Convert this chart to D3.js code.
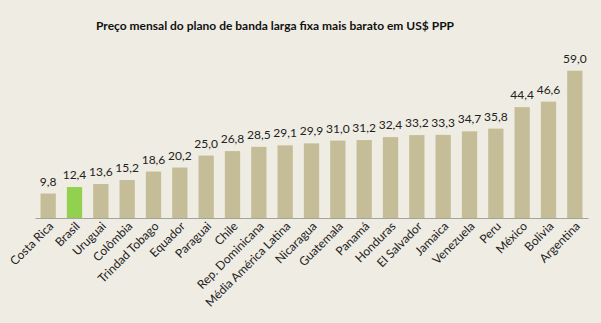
<!DOCTYPE html>
<html><head><meta charset="utf-8">
<script src="https://cdn.jsdelivr.net/npm/d3@7"></script>
<style>html,body{margin:0;padding:0;background:#efece3;}</style>
</head><body><svg id="c" width="601" height="323"></svg>
<script>
const categories = ["Costa Rica","Brasil","Uruguai","Colômbia","Trindad Tobago","Equador","Paraguai","Chile","Rep. Dominicana","Média América Latina","Nicaragua","Guatemala","Panamá","Honduras","El Salvador","Jamaica","Venezuela","Peru","México","Bolivia","Argentina"];
const values = [9.8,12.4,13.6,15.2,18.6,20.2,25.0,26.8,28.5,29.1,29.9,31.0,31.2,32.4,33.2,33.3,34.7,35.8,44.4,46.6,59.0];
const highlight = ["Brasil"];
const title = "Preço mensal do plano de banda larga fixa mais barato em US$ PPP";

const svg = d3.select("#c");
svg.append("rect").attr("width",601).attr("height",323).attr("fill","#efece3");
const font = "Lato, 'Open Sans', sans-serif";
const x = d3.scaleBand().domain(categories).range([35,588]).paddingInner(0.42).paddingOuter(0.21);
const y = d3.scaleLinear().domain([0,59]).range([218,70.7]);

svg.append("text").attr("x",275).attr("y",30).attr("text-anchor","middle")
  .attr("font-family",font).attr("font-weight","bold").attr("font-size",12).attr("fill","#111").text(title);

svg.selectAll("rect.bar").data(values).join("rect").attr("class","bar")
  .attr("x",(d,i)=>x(categories[i])).attr("width",x.bandwidth())
  .attr("y",d=>y(d)).attr("height",d=>y(0)-y(d))
  .attr("fill",(d,i)=>highlight.includes(categories[i])?"#92d050":"#c4bd97");

svg.selectAll("text.val").data(values).join("text").attr("class","val")
  .attr("x",(d,i)=>x(categories[i])+x.bandwidth()/2).attr("y",d=>y(d)-8)
  .attr("text-anchor","middle").attr("font-family",font).attr("font-size",12).attr("fill","#222")
  .text(d=>d.toFixed(1).replace(".",","));

const ax = svg.append("g").attr("transform","translate(0,218)")
  .call(d3.axisBottom(x).tickSize(0).tickSizeOuter(0).tickPadding(0));
ax.select(".domain").attr("stroke","#a6a39a");
ax.selectAll(".tick text").attr("font-family",font).attr("font-size",12).attr("fill","#222")
  .attr("text-anchor","end").attr("dy",null)
  .attr("transform","translate(6,9) rotate(-45)");
</script></body></html>
